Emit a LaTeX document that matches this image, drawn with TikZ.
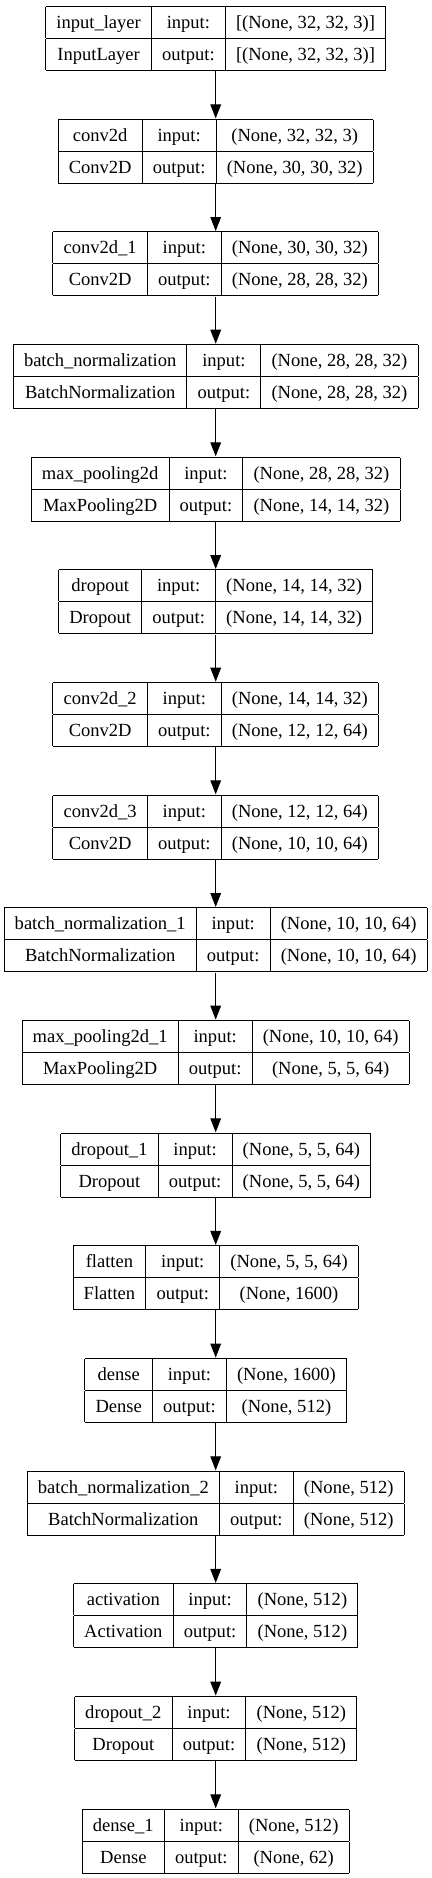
\documentclass[tikz,border=0pt]{standalone}
\usepackage{fontspec}
\setmainfont{Liberation Serif}
\usetikzlibrary{arrows.meta}

\setlength{\tabcolsep}{8pt}
\setlength{\arrayrulewidth}{0.75pt}
\newcommand{\cellstrut}{\rule[-7pt]{0pt}{23.25pt}}
\newcommand{\layertab}[4]{%
  \begin{tabular}{|c|c|c|}\hline
  \cellstrut #1 & input: & #3\\\hline
  \cellstrut #2 & output: & #4\\\hline
  \end{tabular}}

\begin{document}
\begin{tikzpicture}[x=0.75pt,y=0.75pt,
    layer/.style={inner sep=0pt, anchor=north, font=\fontsize{13.9}{16.7}\selectfont},
    flow/.style={-{Triangle[length=10.5pt,width=8pt]}, line width=0.75pt}]
    \useasboundingbox (0,0) rectangle (432,-1878);
    
    \node[layer] (inp) at (215.7,-5.7) {\layertab{input\_layer}{InputLayer}{[(None, 32, 32, 3)]}{[(None, 32, 32, 3)]}};
    \node[layer] (c1) at (215.7,-118.4) {\layertab{conv2d}{Conv2D}{(None, 32, 32, 3)}{(None, 30, 30, 32)}};
    \node[layer] (c2) at (215.7,-231.0) {\layertab{conv2d\_1}{Conv2D}{(None, 30, 30, 32)}{(None, 28, 28, 32)}};
    \node[layer] (bn) at (215.7,-343.7) {\layertab{batch\_normalization}{BatchNormalization}{(None, 28, 28, 32)}{(None, 28, 28, 32)}};
    \node[layer] (mp) at (215.7,-456.3) {\layertab{max\_pooling2d}{MaxPooling2D}{(None, 28, 28, 32)}{(None, 14, 14, 32)}};
    \node[layer] (dr) at (215.7,-569.0) {\layertab{dropout}{Dropout}{(None, 14, 14, 32)}{(None, 14, 14, 32)}};
    
    \node[layer] (c3) at (215.7,-681.7) {\layertab{conv2d\_2}{Conv2D}{(None, 14, 14, 32)}{(None, 12, 12, 64)}};
    \node[layer] (c4) at (215.7,-794.3) {\layertab{conv2d\_3}{Conv2D}{(None, 12, 12, 64)}{(None, 10, 10, 64)}};
    \node[layer] (bn1) at (215.7,-907.0) {\layertab{batch\_normalization\_1}{BatchNormalization}{(None, 10, 10, 64)}{(None, 10, 10, 64)}};
    \node[layer] (mp1) at (215.7,-1019.6) {\layertab{max\_pooling2d\_1}{MaxPooling2D}{(None, 10, 10, 64)}{(None, 5, 5, 64)}};
    \node[layer] (dr1) at (215.7,-1132.3) {\layertab{dropout\_1}{Dropout}{(None, 5, 5, 64)}{(None, 5, 5, 64)}};
    
    \node[layer] (fl) at (215.7,-1244.9) {\layertab{flatten}{Flatten}{(None, 5, 5, 64)}{(None, 1600)}};
    \node[layer] (de) at (215.7,-1357.6) {\layertab{dense}{Dense}{(None, 1600)}{(None, 512)}};
    \node[layer] (bn2) at (215.7,-1470.3) {\layertab{batch\_normalization\_2}{BatchNormalization}{(None, 512)}{(None, 512)}};
    \node[layer] (act) at (215.7,-1582.9) {\layertab{activation}{Activation}{(None, 512)}{(None, 512)}};
    \node[layer] (dr2) at (215.7,-1695.6) {\layertab{dropout\_2}{Dropout}{(None, 512)}{(None, 512)}};
    \node[layer] (de1) at (215.7,-1808.3) {\layertab{dense\_1}{Dense}{(None, 512)}{(None, 62)}};
    
    \draw[flow] (inp) -- (c1);
    \draw[flow] (c1) -- (c2);
    \draw[flow] (c2) -- (bn);
    \draw[flow] (bn) -- (mp);
    \draw[flow] (mp) -- (dr);
    \draw[flow] (dr) -- (c3);
    \draw[flow] (c3) -- (c4);
    \draw[flow] (c4) -- (bn1);
    \draw[flow] (bn1) -- (mp1);
    \draw[flow] (mp1) -- (dr1);
    \draw[flow] (dr1) -- (fl);
    \draw[flow] (fl) -- (de);
    \draw[flow] (de) -- (bn2);
    \draw[flow] (bn2) -- (act);
    \draw[flow] (act) -- (dr2);
    \draw[flow] (dr2) -- (de1);
    
\end{tikzpicture}
\end{document}
